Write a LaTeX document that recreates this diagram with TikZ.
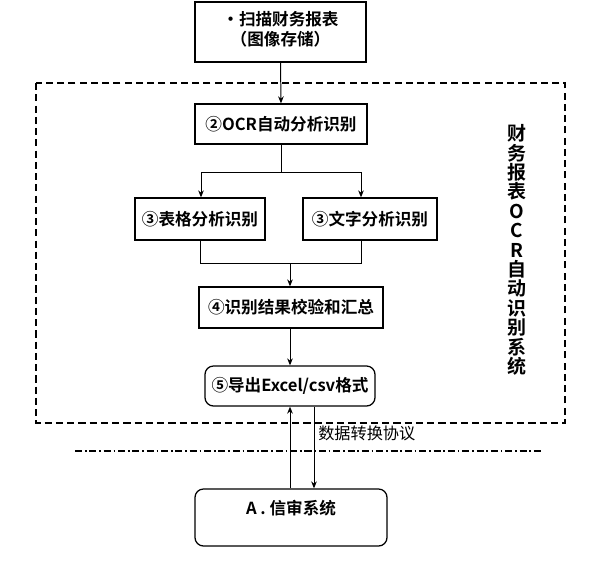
\documentclass[tikz,border=0pt]{standalone}
\usepackage{fontspec}
\newfontfamily\cjk{Noto Sans CJK SC}
\newfontfamily\cjkb{Noto Sans CJK SC Bold}
\usetikzlibrary{arrows.meta,calc}

\begin{document}
\begin{tikzpicture}[
    x=0.025cm, y=-0.025cm,
    stage/.style={
      rectangle, draw=black, line width=0.9pt, fill=white,
      align=center, font=\cjkb\fontsize{11.8}{14.5}\selectfont,
      inner sep=2pt
    },
    roundstage/.style={
      stage, rounded corners=6pt
    },
    frame/.style={
      draw=black, line width=1.2pt, dash pattern=on 5pt off 3pt
    },
    border/.style={
      draw=black, line width=1.1pt,
      dash pattern=on 5pt off 2pt on 1.2pt off 2pt
    },
    flow/.style={-{Stealth[length=5pt,width=4pt]}, line width=0.7pt, black},
    link/.style={-, line width=0.7pt, black}
  ]
    \useasboundingbox (0,0) rectangle (600,574);

    % system frame and boundary
    \draw[frame] (36,83) rectangle (565,423);
    \draw[border] (75,451) -- (543,451);

    \node[stage, minimum width=171*0.025cm, minimum height=60*0.025cm,
          text depth=5pt] (scan) at (280.5,32) {%
      •扫描财务报表\\（图像存储）};
    \node[stage, minimum width=172*0.025cm, minimum height=40*0.025cm]
      (ocr) at (281,124) {②OCR自动分析识别};

    \node[stage, minimum width=130*0.025cm, minimum height=42*0.025cm]
      (table) at (200,219) {③表格分析识别};
    \node[stage, minimum width=134*0.025cm, minimum height=42*0.025cm]
      (words) at (370,219) {③文字分析识别};

    \node[stage, minimum width=184*0.025cm, minimum height=41*0.025cm]
      (check) at (291,307.5) {④识别结果校验和汇总};
    \node[roundstage, minimum width=170*0.025cm, minimum height=40*0.025cm]
      (export) at (290,386) {⑤导出Excel/csv格式};

    \node[roundstage, minimum width=192*0.025cm, minimum height=57*0.025cm,
          text depth=15pt] (credit) at (291,517.5) {A . 信审系统};

    \node[align=center, inner sep=0pt,
          font=\cjkb\fontsize{13.5}{13.8}\selectfont] (title) at (517,250) {%
      财\\务\\报\\表\\O\\C\\R\\自\\动\\识\\别\\系\\统};
    \node[anchor=west, inner sep=0pt, font=\cjk\fontsize{11.5}{14}\selectfont]
      (proto) at (318,433) {数据转换协议};

    \coordinate (splitL) at (201,172);
    \coordinate (splitR) at (361,172);
    \coordinate (mergeL) at (200,263);
    \coordinate (mergeR) at (361,263);
    \coordinate (mergeM) at (290,263);

    \draw[flow] (scan.south) -- (ocr.north);
    \draw[link] (ocr.south) -- (ocr.south |- splitL);
    \draw[link] (splitL) -- (splitR);
    \draw[flow] (splitL) -- (splitL |- table.north);
    \draw[flow] (splitR) -- (splitR |- words.north);

    \draw[link] (table.south) -- (mergeL) -- (mergeR) -- (mergeR |- words.south);
    \draw[flow] (mergeM) -- (mergeM |- check.north);
    \draw[flow] (check.south -| export.south) -- (export.north);

    \draw[flow] (credit.north -| export.south) -- (export.south);
    \draw[flow] ($(export.south)+(24,0)$) -- ($(export.south |- credit.north)+(24,0)$);
  \end{tikzpicture}
\end{document}
